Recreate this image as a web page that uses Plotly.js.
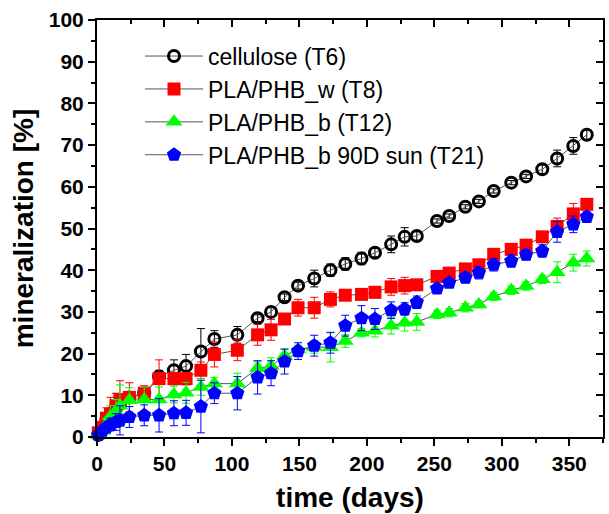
<!DOCTYPE html>
<html>
<head>
<meta charset="utf-8">
<script src="https://cdn.plot.ly/plotly-3.0.1.min.js"></script>
<style>html,body{margin:0;padding:0;background:#fff;}#chart{width:609px;height:514px;}</style>
</head>
<body>
<div id="chart"></div>
<script>
var days = [1, 4, 7, 10, 14, 17, 24, 35, 46, 57, 66, 77, 87, 104, 119, 129, 139, 149, 161, 173, 184, 196, 206, 218, 228, 237, 252, 261, 273, 283, 294, 307, 318, 330, 341, 353, 363];

var cellulose = [0.5, 2, 4, 5.5, 7, 8, 9.5, 10.5, 14.5, 16, 17, 20.5, 23.5, 24.5, 28.5, 30, 33.5, 36.3, 38, 40, 41.5, 42.8, 44.2, 46.2, 48, 48.2, 51.8, 53, 55.2, 56.5, 59, 61, 62.5, 64.2, 66.8, 69.8, 72.5];
var celluloseErr = [0.3, 0.5, 0.5, 0.5, 0.5, 0.5, 0.8, 1, 1.5, 2.5, 2.8, 5.5, 2, 2, 0.8, 1.2, 0.8, 0.8, 2, 1.5, 1.5, 1.5, 1, 2, 2.2, 1, 0.5, 0.5, 0.5, 0.5, 0.5, 0.5, 0.5, 1, 2, 2, 1.2];

var plaW = [1, 2.3, 4.5, 5.5, 7.5, 9, 9.5, 10.5, 14, 14, 14, 16, 19.8, 20.8, 24.5, 25.7, 28.3, 31, 31, 33, 34, 34.2, 34.7, 36, 36.3, 36.5, 38.5, 39.3, 40.3, 41.3, 43.8, 45, 46, 48, 50.5, 53.5, 55.8];
var plaWErr = [0.5, 1, 2.5, 4, 3, 4.5, 3.5, 1.8, 4.5, 1.5, 1.5, 2, 3, 2.5, 2.5, 2.5, 1, 2, 2.5, 1.8, 1, 0.5, 1.3, 2, 2, 1, 0.8, 1.2, 1, 0.8, 0.5, 0.5, 0.7, 1, 2, 2.5, 1];

var plaB = [0.5, 1.5, 3, 5, 6, 7.5, 8.8, 9, 9, 10.2, 10.6, 12, 12.8, 12.8, 16.5, 17, 19.5, 21, 21.6, 21.5, 23, 25, 25.5, 26.7, 27.4, 27.6, 29.4, 29.8, 31, 31.8, 33.7, 35.2, 36.2, 37.8, 39.5, 41.8, 42.8];
var plaBErr = [0.3, 0.8, 1.5, 2.5, 3, 5, 3, 3, 3, 2, 2.5, 2, 1.5, 2.5, 1.5, 2, 1.5, 1, 1.5, 3.5, 1.5, 1, 1.5, 2, 2, 2, 1, 1, 1, 0.8, 1, 1, 1, 1, 2.5, 2, 1.8];

var plaBSun = [0.5, 1.5, 2.3, 3, 3.6, 4, 4.8, 5.2, 5.2, 5.7, 5.8, 7.3, 10.5, 10.5, 14.3, 15.3, 18.1, 20.6, 21.9, 22.6, 26.7, 28.5, 28.3, 30.4, 30.7, 32.3, 35.6, 37, 38.2, 39.4, 41.3, 42.2, 43.7, 44.6, 49.2, 51, 52.8];
var plaBSunErr = [0.3, 0.8, 1, 1.5, 2, 3.5, 2.5, 2.5, 4, 3, 3, 6.3, 2.5, 4, 4, 3, 3, 2, 2.5, 2.5, 2.5, 3, 2.5, 2, 1.5, 1.5, 1, 1, 1.2, 1.5, 1.5, 1.5, 1.2, 1.5, 2.5, 2, 1.2];

var names = ['cellulose (T6)', 'PLA/PHB_w (T8)', 'PLA/PHB_b (T12)', 'PLA/PHB_b 90D sun (T21)'];
var xTickVals = [0, 50, 100, 150, 200, 250, 300, 350];
var yTickVals = [0, 10, 20, 30, 40, 50, 60, 70, 80, 90, 100];

function series(name, y, err, color, symbol, size, mline) {
  return {
    type: 'scatter', mode: 'lines+markers', name: name, x: days, y: y,
    line: {color: '#555', width: 1},
    marker: {symbol: symbol, size: size, color: color, line: mline},
    error_y: {type: 'data', array: err, visible: true, color: color, thickness: 1, width: 4},
    cliponaxis: false
  };
}

var traces = [
  series(names[0], cellulose, celluloseErr, '#000000', 'circle-open', 11, {color: '#000', width: 3}),
  series(names[1], plaW, plaWErr, '#ff0000', 'square', 13, {width: 0}),
  series(names[2], plaB, plaBErr, '#00ff00', 'triangle-up', 15, {width: 0}),
  series(names[3], plaBSun, plaBSunErr, '#0000ff', 'pentagon', 15, {width: 0}),
  {type: 'scatter', x: [null], y: [null], xaxis: 'x2', yaxis: 'y2', showlegend: false, hoverinfo: 'skip'}
];

var tickFont = {family: 'Liberation Sans, Arial, sans-serif', size: 21, weight: 'bold', color: '#000'};
var titleFont = {family: 'Liberation Sans, Arial, sans-serif', size: 28, weight: 'bold', color: '#000'};

var layout = {
  width: 609, height: 514,
  margin: {l: 97, r: 6, t: 20, b: 77},
  paper_bgcolor: '#fff', plot_bgcolor: '#fff',
  showlegend: true,
  legend: {
    x: 0.085, y: 0.965, xanchor: 'left', yanchor: 'top',
    bgcolor: 'rgba(0,0,0,0)', borderwidth: 0,
    font: {family: 'Liberation Sans, Arial, sans-serif', size: 23, color: '#000'},
    itemwidth: 58, tracegroupgap: 0
  },
  xaxis: {
    range: [0, 375], tickvals: xTickVals, ticks: 'outside', ticklen: 7, tickwidth: 2, tickcolor: '#000',
    minor: {dtick: 25, tick0: 0, ticks: 'outside', ticklen: 4, tickwidth: 2, tickcolor: '#000'},
    showline: true, linewidth: 2, linecolor: '#000', mirror: true,
    showgrid: false, zeroline: false, tickfont: tickFont,
    title: {text: 'time (days)', font: titleFont, standoff: 13}
  },
  yaxis: {
    range: [0, 100], tickvals: yTickVals, ticks: 'outside', ticklen: 7, tickwidth: 2, tickcolor: '#000',
    minor: {dtick: 5, tick0: 0, ticks: 'outside', ticklen: 4, tickwidth: 2, tickcolor: '#000'},
    showline: true, linewidth: 2, linecolor: '#000', mirror: true,
    showgrid: false, zeroline: false, tickfont: tickFont,
    title: {text: 'mineralization [%]', font: titleFont, standoff: 7}
  },
  xaxis2: {
    overlaying: 'x', anchor: 'y2', side: 'top', range: [0, 375], tickvals: xTickVals,
    ticks: 'inside', ticklen: 7, tickwidth: 2, tickcolor: '#000',
    minor: {dtick: 25, tick0: 0, ticks: 'inside', ticklen: 4, tickwidth: 2, tickcolor: '#000'},
    showticklabels: false, showline: false, showgrid: false, zeroline: false
  },
  yaxis2: {
    overlaying: 'y', anchor: 'x2', side: 'right', range: [0, 100], tickvals: yTickVals,
    ticks: 'inside', ticklen: 7, tickwidth: 2, tickcolor: '#000',
    minor: {dtick: 5, tick0: 0, ticks: 'inside', ticklen: 4, tickwidth: 2, tickcolor: '#000'},
    showticklabels: false, showline: false, showgrid: false, zeroline: false
  }
};

Plotly.newPlot('chart', traces, layout, {staticPlot: true, displayModeBar: false});
</script>
</body>
</html>
